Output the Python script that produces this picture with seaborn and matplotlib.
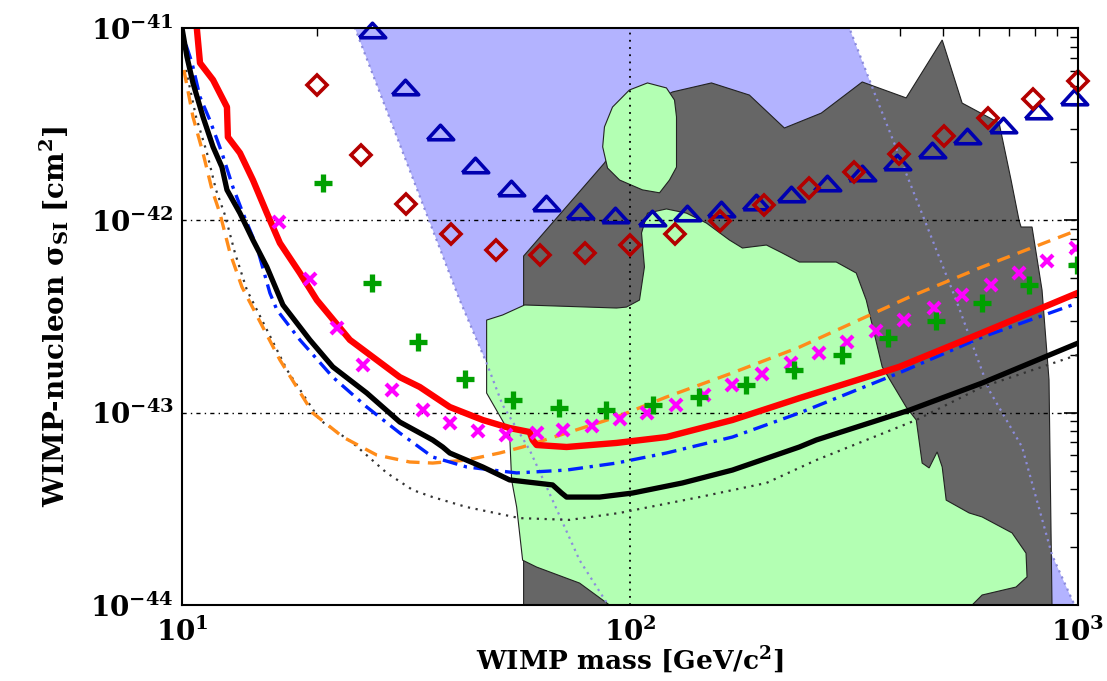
import numpy as np
import matplotlib
matplotlib.use("Agg")
import matplotlib.pyplot as plt
import seaborn as sns

# ---------------- data (mass in GeV/c^2, cross-section in cm^2) ----------------
# thick black solid limit
black_m = [10.0, 10.26, 10.58, 11.14, 11.73, 12.28, 12.60, 13.47, 14.40, 15.47, 16.80, 19.29,
           21.71, 25.85, 30.63, 36.27, 38.19, 39.60, 46.91, 53.86, 67.18, 70.36, 72.19, 85.51,
           101.3, 130.9, 169.3, 238.8, 260.5, 420.1, 610.9, 1000.0]
black_s = [1.0e-41, 7.07e-42, 5.18e-42, 3.45e-42, 2.41e-42, 1.89e-42, 1.44e-42, 1.09e-42, 7.90e-43,
           5.72e-43, 3.63e-43, 2.39e-43, 1.73e-43, 1.265e-43, 8.94e-44, 7.21e-44, 6.63e-44, 6.17e-44,
           5.22e-44, 4.47e-44, 4.21e-44, 3.82e-44, 3.64e-44, 3.64e-44, 3.82e-44, 4.31e-44, 5.03e-44,
           6.63e-44, 7.21e-44, 1.03e-43, 1.426e-43, 2.30e-43]

# thick red solid limit
red_m = [10.75, 10.97, 11.73, 12.60, 12.66, 13.47, 14.40, 15.47, 16.54, 18.33, 20.0, 23.70, 30.63,
         33.94, 39.60, 46.91, 53.86, 59.70, 60.62, 61.88, 72.19, 93.3, 120.6, 169.3, 238.8, 399.0,
         610.9, 1000.0]
red_s = [1.1e-41, 6.58e-42, 5.37e-42, 3.88e-42, 2.71e-42, 2.24e-42, 1.62e-42, 1.09e-42, 7.62e-43,
         5.32e-43, 3.85e-43, 2.39e-43, 1.53e-43, 1.36e-43, 1.07e-43, 9.16e-44, 8.32e-44, 7.93e-44,
         7.21e-44, 6.79e-44, 6.63e-44, 6.96e-44, 7.47e-44, 9.16e-44, 1.19e-43, 1.73e-43, 2.60e-43,
         4.20e-43]

# blue dash-dot curve
blue_m = [10.21, 10.53, 10.97, 11.54, 12.28, 12.99, 13.68, 14.70, 15.71, 16.29, 18.33, 21.71, 25.85,
          30.63, 36.27, 43.19, 55.85, 72.19, 93.3, 120.6, 169.3, 238.8, 399.0, 610.9, 1000.0]
blue_s = [8.16e-42, 6.58e-42, 4.38e-42, 3.32e-42, 2.24e-42, 1.49e-42, 1.09e-42, 7.26e-43, 4.19e-43,
          3.42e-43, 2.39e-43, 1.53e-43, 1.07e-43, 7.84e-44, 5.88e-44, 5.22e-44, 4.86e-44, 5.03e-44,
          5.47e-44, 6.17e-44, 7.47e-44, 9.96e-44, 1.61e-43, 2.47e-43, 3.72e-43]

# orange dashed curve
orange_m = [10.10, 10.58, 11.14, 11.67, 12.15, 12.80, 13.61, 16.54, 19.59, 22.86, 27.21, 32.24,
            36.27, 43.19, 51.17, 57.59, 72.19, 93.3, 120.6, 169.3, 238.8, 420.1, 610.9, 1000.0]
orange_s = [6.05e-42, 3.45e-42, 2.24e-42, 1.44e-42, 1.09e-42, 6.76e-43, 4.50e-43, 1.88e-43, 9.96e-44,
            7.47e-44, 6.02e-44, 5.54e-44, 5.47e-44, 5.67e-44, 6.17e-44, 6.63e-44, 7.84e-44, 9.49e-44,
            1.206e-43, 1.61e-43, 2.19e-43, 3.99e-43, 5.72e-43, 8.91e-43]

# thin black dotted curve
dot_m = [10.21, 10.75, 11.37, 11.91, 12.47, 13.13, 13.96, 17.15, 20.31, 24.06, 28.65, 32.74, 36.27,
         43.19, 56.71, 73.3, 94.8, 142.9, 201.6, 260.5, 435.5, 610.9, 1000.0]
dot_s = [6.05e-42, 3.45e-42, 2.24e-42, 1.44e-42, 1.066e-42, 6.76e-43, 4.34e-43, 1.67e-43, 9.16e-44,
         6.96e-44, 4.86e-44, 3.96e-44, 3.64e-44, 3.23e-44, 2.83e-44, 2.77e-44, 3.01e-44, 3.64e-44,
         4.31e-44, 5.67e-44, 9.16e-44, 1.36e-43, 2.00e-43]

# open dark-red diamonds
diam_m = [20.0, 25.1, 31.6, 39.8, 50.1, 63.1, 79.4, 100.0, 125.9, 158.5, 199.5, 251.2, 316.2,
          398.1, 501.2, 631.0, 794.3, 1000.0]
diam_s = [5.06e-42, 2.19e-42, 1.22e-42, 8.5e-43, 7.0e-43, 6.6e-43, 6.77e-43, 7.44e-43, 8.5e-43,
          9.9e-43, 1.20e-42, 1.47e-42, 1.78e-42, 2.21e-42, 2.74e-42, 3.40e-42, 4.27e-42, 5.30e-42]

# open dark-blue triangles
tri_m = [26.5, 31.4, 37.6, 45.0, 54.2, 64.8, 77.5, 92.8, 111.7, 133.7, 160.0, 191.5, 229.2, 275.7,
         330.0, 394.9, 472.6, 565.6, 680.5, 814.3, 979.7]
tri_s = [9.77e-42, 4.93e-42, 2.88e-42, 1.94e-42, 1.47e-42, 1.23e-42, 1.12e-42, 1.07e-42, 1.03e-42,
         1.09e-42, 1.15e-42, 1.25e-42, 1.37e-42, 1.56e-42, 1.76e-42, 2.01e-42, 2.32e-42, 2.74e-42,
         3.13e-42, 3.70e-42, 4.38e-42]

# green pluses
plus_m = [20.6, 26.5, 33.6, 42.8, 54.7, 69.6, 88.6, 112.3, 142.9, 181.9, 232.7, 297.8, 377.1,
          482.5, 611.0, 778.0, 994.9]
plus_s = [1.56e-42, 4.72e-43, 2.33e-43, 1.50e-43, 1.16e-43, 1.06e-43, 1.03e-43, 1.10e-43, 1.21e-43,
          1.39e-43, 1.67e-43, 2.00e-43, 2.44e-43, 2.99e-43, 3.72e-43, 4.61e-43, 5.86e-43]

# magenta crosses
cross_m = [16.5, 19.3, 22.2, 25.3, 29.4, 34.5, 39.6, 45.7, 53.0, 61.9, 70.7, 82.1, 94.8, 109.4,
           127.0, 146.6, 169.3, 197.4, 229.2, 264.6, 305.5, 354.4, 409.3, 477.5, 551.2, 639.7,
           738.7, 853.1, 989.7]
cross_s = [9.80e-43, 4.95e-43, 2.75e-43, 1.77e-43, 1.31e-43, 1.03e-43, 8.83e-44, 8.02e-44, 7.65e-44,
           7.84e-44, 8.12e-44, 8.52e-44, 9.26e-44, 9.96e-44, 1.10e-43, 1.24e-43, 1.39e-43, 1.59e-43,
           1.81e-43, 2.04e-43, 2.33e-43, 2.65e-43, 3.03e-43, 3.50e-43, 4.09e-43, 4.61e-43, 5.32e-43,
           6.14e-43, 7.18e-43]

# light-blue band (left edge top->bottom, then right edge bottom->top)
band_left_m = [23.7, 41.68, 47.86, 51.96, 59.70, 65.14, 77.17, 92.35]
band_left_s = [1.17e-41, 3.85e-43, 1.81e-43, 1.096e-43, 6.40e-44, 4.11e-44, 1.71e-44, 8.87e-45]
band_right_m = [1005.0, 874.9, 750.2, 633.2, 534.6, 356.3, 300.8]
band_right_s = [8.87e-45, 1.82e-44, 6.63e-44, 1.31e-43, 3.85e-43, 4.22e-42, 1.17e-41]

# dark-grey region
grey_m = [57.88, 57.88, 87.7, 105.0, 124.4, 152.0, 184.7, 221.1, 267.3, 329.9, 413.5, 497.6, 551.3,
          666.6, 708.9, 738.6, 746.3, 789.6, 831.2, 861.6, 874.9, 874.9]
grey_s = [8.87e-45, 6.52e-43, 1.987e-42, 3.75e-42, 4.65e-42, 5.18e-42, 4.48e-42, 3.02e-42, 3.61e-42,
          5.24e-42, 4.33e-42, 8.66e-42, 4.07e-42, 3.21e-42, 1.62e-42, 1.0e-42, 9.23e-43, 9.23e-43,
          4.34e-43, 1.48e-43, 1.0e-44, 8.87e-45]

# light-green small island
gisl_m = [109.4, 120.6, 125.7, 127.0, 127.0, 122.5, 116.4, 106.6, 94.8, 89.1, 86.9, 87.7, 91.4, 99.7]
gisl_s = [5.18e-42, 4.88e-42, 4.22e-42, 3.45e-42, 1.89e-42, 1.62e-42, 1.39e-42, 1.44e-42, 1.62e-42,
          1.87e-42, 2.41e-42, 3.06e-42, 3.88e-42, 4.76e-42]

# light-green large region
gbig_m = [106.1, 109.4, 120.6, 133.7, 148.1, 166.7, 178.2, 201.6, 218.8, 238.8, 288.7, 319.9, 336.8,
          365.6, 413.5, 435.5, 448.9, 465.3, 484.8, 497.6, 507.9, 571.5, 610.9, 712.6, 765.6, 769.6,
          727.3, 610.9, 580.4, 580.4, 92.35, 90.0, 77.17, 61.88, 57.59, 55.85, 54.42, 53.86, 47.86,
          47.86, 51.96, 58.18, 93.3, 98.2, 105.0, 107.7]
gbig_s = [8.59e-43, 1.09e-42, 1.146e-42, 1.09e-42, 9.68e-43, 7.90e-43, 7.18e-43, 7.44e-43, 6.76e-43,
          6.07e-43, 6.07e-43, 5.32e-43, 3.85e-43, 1.73e-43, 1.07e-43, 9.16e-44, 5.47e-44, 5.16e-44,
          6.25e-44, 5.22e-44, 3.51e-44, 3.01e-44, 2.87e-44, 2.37e-44, 1.86e-44, 1.40e-44, 1.24e-44,
          1.127e-44, 1.0e-44, 8.87e-45, 8.87e-45, 1.0e-44, 1.30e-44, 1.575e-44, 1.71e-44, 3.23e-44,
          4.47e-44, 7.84e-44, 1.265e-43, 3.03e-43, 3.22e-43, 3.63e-43, 3.50e-43, 3.54e-43, 3.85e-43,
          5.72e-43]

x_ticks = [10, 100, 1000]
y_ticks = [1e-44, 1e-43, 1e-42, 1e-41]

# ---------------- style ----------------
sns.set_theme(style="white")
plt.rcParams["font.family"] = ["DejaVu Serif"]
plt.rcParams["font.weight"] = "bold"
plt.rcParams["text.color"] = "black"
plt.rcParams["axes.labelcolor"] = "black"
plt.rcParams["mathtext.fontset"] = "custom"
plt.rcParams["mathtext.rm"] = "DejaVu Serif:bold"
plt.rcParams["mathtext.bf"] = "DejaVu Serif:bold"
plt.rcParams["mathtext.it"] = "DejaVu Serif:bold:italic"

fig = plt.figure(figsize=(11.07, 6.81), dpi=100)
ax = fig.add_axes([0.1644, 0.1116, 0.8094, 0.8473])
ax.set_xscale("log")
ax.set_yscale("log")

# regions
band_m = band_left_m + band_right_m
band_s = band_left_s + band_right_s
ax.fill(band_m, band_s, color="#b3b3ff", lw=0, zorder=1)
ax.fill(grey_m, grey_s, facecolor="#666666", edgecolor="#222222", lw=0.8, zorder=2)
ax.fill(gbig_m, gbig_s, facecolor="#b3ffb3", edgecolor="#222222", lw=0.8, zorder=3)
ax.fill(gisl_m, gisl_s, facecolor="#b3ffb3", edgecolor="#222222", lw=0.8, zorder=3)
ax.plot(band_left_m, band_left_s, color="#8c8cdc", lw=1.6, ls=(0, (1, 2)), zorder=4)
ax.plot(band_right_m, band_right_s, color="#8c8cdc", lw=1.6, ls=(0, (1, 2)), zorder=4)

# grid at decades
for xv in [100]:
    ax.axvline(xv, color="black", lw=1.3, ls=(0, (1, 3)), zorder=4.5)
for yv in [1e-43, 1e-42]:
    ax.axhline(yv, color="black", lw=1.0, ls=(0, (3, 3, 1, 3)), zorder=4.5)

# curves
sns.lineplot(x=dot_m, y=dot_s, ax=ax, color="#333333", lw=1.6, ls=(0, (1, 2.5)),
             sort=False, estimator=None, zorder=5)
sns.lineplot(x=orange_m, y=orange_s, ax=ax, color="#ff8c1a", lw=2.4, ls=(0, (4, 2.5)),
             sort=False, estimator=None, zorder=5)
sns.lineplot(x=blue_m, y=blue_s, ax=ax, color="#0022ff", lw=2.4, ls=(0, (4.5, 2, 1, 2)),
             sort=False, estimator=None, zorder=5)
sns.lineplot(x=black_m, y=black_s, ax=ax, color="black", lw=3.8,
             sort=False, estimator=None, zorder=6)
sns.lineplot(x=red_m, y=red_s, ax=ax, color="#ff0000", lw=4.6,
             sort=False, estimator=None, zorder=6)

# markers
tri_marker = [(-1, -0.55), (1, -0.55), (0, 0.55), (-1, -0.55)]
sns.lineplot(x=cross_m, y=cross_s, ax=ax, ls="none", marker="x", markersize=9,
             markeredgewidth=3.0, color="#ff00ff", markeredgecolor="#ff00ff",
             sort=False, estimator=None, zorder=7)
sns.lineplot(x=plus_m, y=plus_s, ax=ax, ls="none", marker="+", markersize=13,
             markeredgewidth=3.8, color="#00a000", markeredgecolor="#00a000",
             sort=False, estimator=None, zorder=7)
sns.lineplot(x=tri_m, y=tri_s, ax=ax, ls="none", marker=tri_marker, markersize=19,
             markerfacecolor="none", markeredgecolor="#0000b0", markeredgewidth=2.6,
             color="#0000b0", sort=False, estimator=None, zorder=8, clip_on=False)
sns.lineplot(x=diam_m, y=diam_s, ax=ax, ls="none", marker="D", markersize=10.5,
             markerfacecolor="none", markeredgecolor="#b30000", markeredgewidth=2.6,
             color="#b30000", sort=False, estimator=None, zorder=8, clip_on=False)

# axes
ax.set_xlim(10, 1000)
ax.set_ylim(1e-44, 1e-41)
ax.set_xticks(x_ticks)
ax.set_yticks(y_ticks)
ax.tick_params(which="both", direction="in", top=True, right=True, colors="black")
ax.tick_params(which="major", length=10, width=1.2, labelsize=20, pad=6)
ax.tick_params(which="minor", length=6, width=1.0)
ax.tick_params(axis="x", which="major", pad=9)
for sp in ax.spines.values():
    sp.set_color("black")
    sp.set_linewidth(1.5)
    sp.set_zorder(10)
ax.grid(False)

ax.set_xlabel("WIMP mass [GeV/c$^\\mathdefault{2}$]", fontsize=19, fontweight="bold",
              labelpad=-1, color="black")
ax.set_ylabel("WIMP-nucleon σ$_\\mathdefault{SI}$ [cm$^\\mathdefault{2}$]", fontsize=20,
              fontweight="bold", labelpad=14, color="black")

fig.savefig("out.png", dpi=100)
